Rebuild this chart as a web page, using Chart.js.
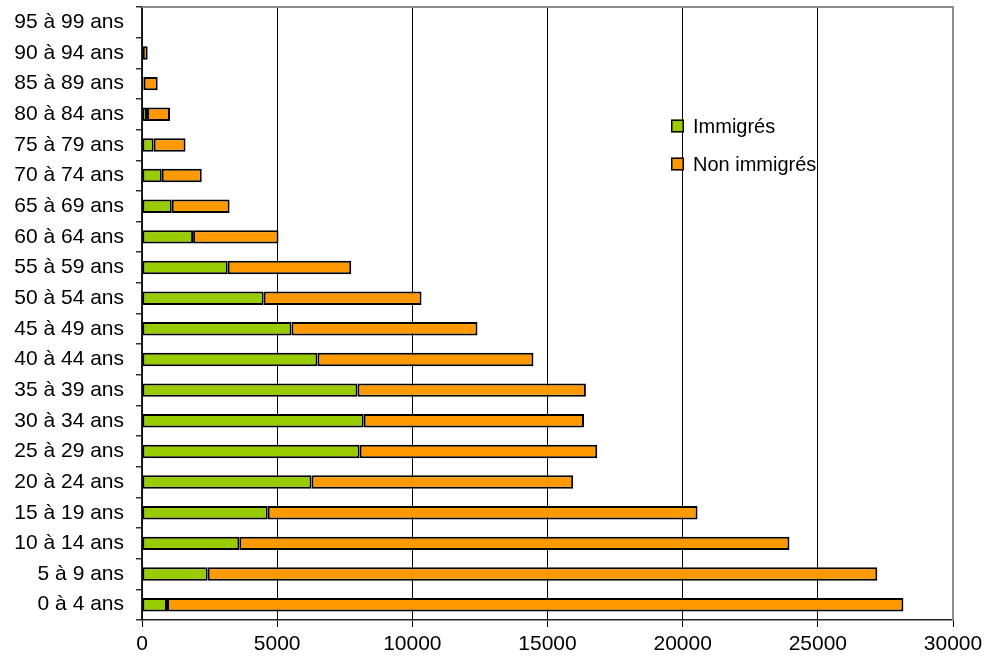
<!DOCTYPE html>
<html>
<head>
<meta charset="utf-8">
<script src="https://cdn.jsdelivr.net/npm/chart.js@4/dist/chart.umd.min.js"></script>
<style>
  html, body { margin: 0; padding: 0; background: #fff; }
  canvas { display: block; }
</style>
</head>
<body>
<canvas id="c" width="988" height="666"></canvas>
<script>
// Age groups, youngest first (drawn bottom to top)
const ageGroups = [
  "0 à 4 ans", "5 à 9 ans", "10 à 14 ans", "15 à 19 ans", "20 à 24 ans",
  "25 à 29 ans", "30 à 34 ans", "35 à 39 ans", "40 à 44 ans", "45 à 49 ans",
  "50 à 54 ans", "55 à 59 ans", "60 à 64 ans", "65 à 69 ans", "70 à 74 ans",
  "75 à 79 ans", "80 à 84 ans", "85 à 89 ans", "90 à 94 ans", "95 à 99 ans"
];

const immigres = [
  925, 2430, 3600, 4650, 6270,
  8050, 8200, 7970, 6490, 5530,
  4500, 3170, 1890, 1100, 730,
  430, 185, 60, 30, 0
];

const nonImmigres = [
  27240, 24770, 20350, 15900, 9680,
  8790, 8150, 8450, 7990, 6880,
  5840, 4570, 3160, 2140, 1480,
  1180, 850, 520, 180, 0
];

const xTicks = [0, 5000, 10000, 15000, 20000, 25000, 30000];

const seriesNames = ["Immigrés", "Non immigrés"];
const seriesColors = ["#99CC00", "#FF9900"];

const FONT = "'Liberation Sans', Arial, sans-serif";

// Frame: grey top and right edges of the plotting area
const framePlugin = {
  id: "frame",
  beforeDatasetsDraw(chart) {
    const { ctx, chartArea: a } = chart;
    ctx.save();
    ctx.strokeStyle = "#8c8c8c";
    ctx.lineWidth = 2;
    ctx.beginPath();
    ctx.moveTo(a.left, a.top);
    ctx.lineTo(a.right, a.top);
    ctx.lineTo(a.right, a.bottom);
    ctx.stroke();
    ctx.restore();
  }
};

// Legend drawn inside the plotting area, without a box
const innerLegend = {
  id: "innerLegend",
  afterDraw(chart) {
    const { ctx } = chart;
    const x0 = 671, rows = [126, 164], box = 13;
    ctx.save();
    ctx.font = "20px " + FONT;
    ctx.textBaseline = "middle";
    chart.data.datasets.forEach((ds, i) => {
      const y = rows[i];
      ctx.fillStyle = ds.backgroundColor;
      ctx.fillRect(x0, y - box / 2, box, box);
      ctx.strokeStyle = "#000";
      ctx.lineWidth = 1.5;
      ctx.strokeRect(x0 + 0.75, y - box / 2 + 0.75, box - 1.5, box - 1.5);
      ctx.fillStyle = "#000";
      ctx.fillText(ds.label, 693, y + 1);
    });
    ctx.restore();
  }
};

new Chart(document.getElementById("c"), {
  type: "bar",
  data: {
    labels: ageGroups,
    datasets: [
      {
        label: seriesNames[0],
        data: immigres,
        backgroundColor: seriesColors[0],
        borderColor: "#000",
        borderWidth: 2,
        borderSkipped: false,
        categoryPercentage: 1,
        barPercentage: 0.44
      },
      {
        label: seriesNames[1],
        data: nonImmigres,
        backgroundColor: seriesColors[1],
        borderColor: "#000",
        borderWidth: 2,
        borderSkipped: false,
        categoryPercentage: 1,
        barPercentage: 0.44
      }
    ]
  },
  options: {
    indexAxis: "y",
    responsive: false,
    animation: false,
    layout: { padding: { top: 7, right: 35, left: 0, bottom: 0 } },
    plugins: {
      legend: { display: false },
      tooltip: { enabled: false }
    },
    scales: {
      x: {
        stacked: true,
        min: 0,
        max: 30000,
        afterBuildTicks(scale) {
          scale.ticks = xTicks.map(v => ({ value: v }));
        },
        afterFit(scale) {
          scale.height = 46;
          scale.paddingLeft = 0;
          scale.paddingRight = 0;
        },
        grid: {
          drawOnChartArea: true,
          drawTicks: true,
          tickLength: 7,
          tickColor: "#000",
          lineWidth: 1,
          color: ctx => (ctx.tick && ctx.tick.value === 30000 ? "#8c8c8c" : "#000")
        },
        border: { display: true, color: "#222", width: 1.5 },
        ticks: {
          color: "#000",
          padding: 5,
          maxRotation: 0,
          callback: v => String(v),
          font: { family: FONT, size: 21 }
        }
      },
      y: {
        stacked: true,
        reverse: true,
        afterFit(scale) {
          scale.width = 142;
          scale.paddingTop = 0;
          scale.paddingBottom = 0;
        },
        grid: {
          offset: true,
          drawOnChartArea: false,
          drawTicks: true,
          tickLength: 6,
          tickColor: "#333",
          lineWidth: 1.5
        },
        border: { display: true, color: "#222", width: 1.5 },
        ticks: {
          color: "#000",
          padding: 12,
          autoSkip: false,
          font: { family: FONT, size: 21 }
        }
      }
    }
  },
  plugins: [framePlugin, innerLegend]
});
</script>
</body>
</html>
